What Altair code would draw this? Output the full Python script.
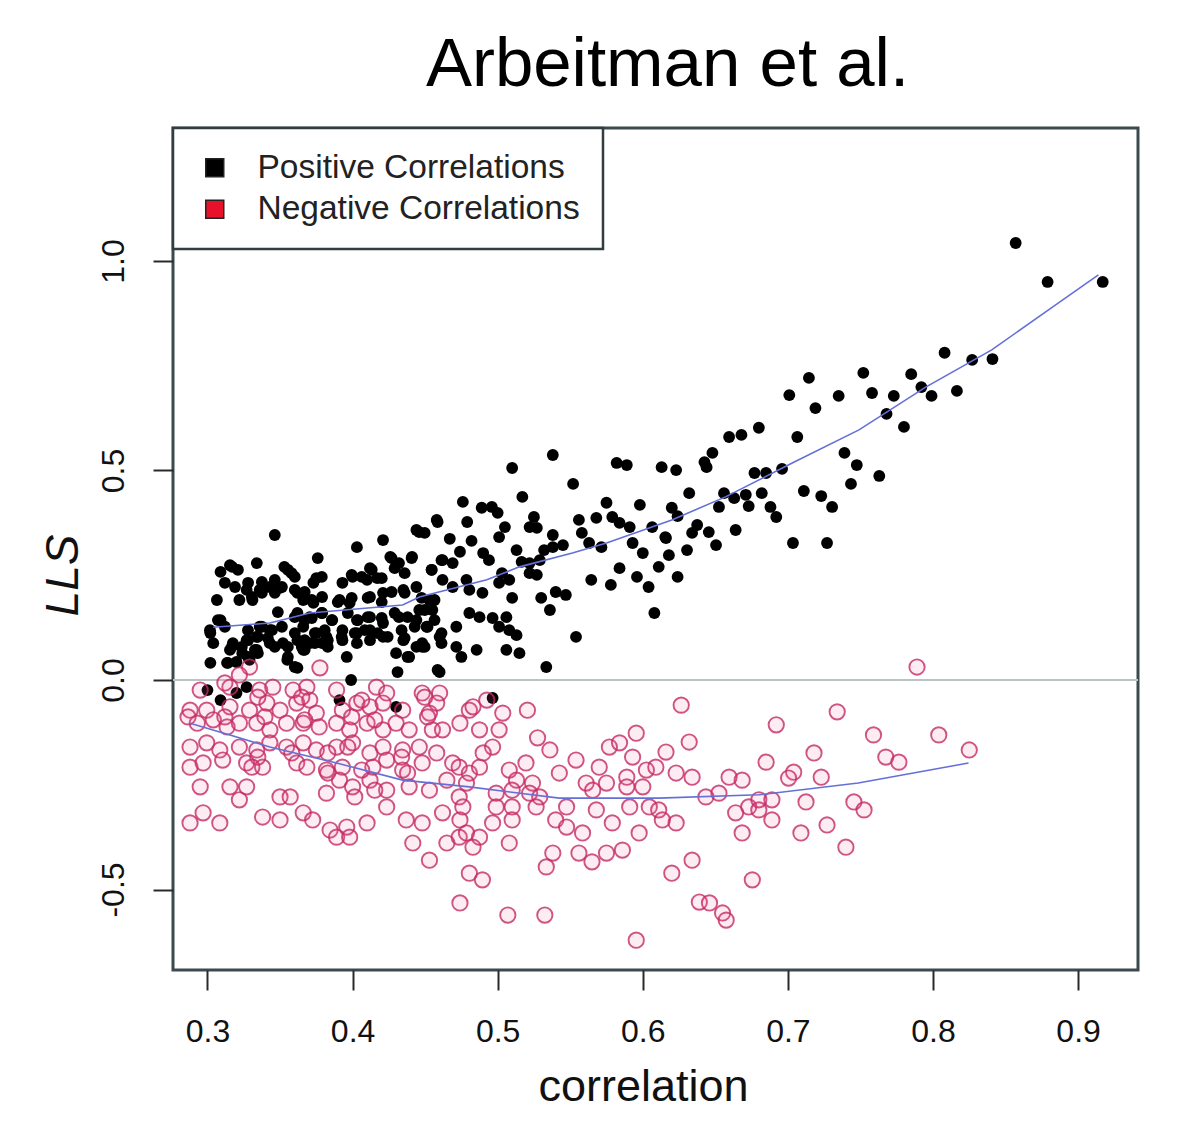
import altair as alt
import pandas as pd

pos_x = [0.3464,0.376,0.403,0.421,0.444,0.309,0.317,0.312,0.334,0.353,0.358,0.375,0.373,0.393,0.400,0.412,0.417,0.410,0.426,0.432,
0.441,0.327,0.336,0.343,0.350,0.3065,0.322,0.331,0.362,0.366,0.373,0.379,0.391,0.398,0.412,0.421,0.435,0.444,0.3485,0.362,
0.3705,0.379,0.386,0.403,0.412,0.421,0.432,0.444,0.309,0.302,0.304,0.336,0.343,0.366,0.375,0.382,0.393,0.403,0.412,0.421,
0.3175,0.327,0.334,0.343,0.352,0.362,0.3705,0.379,0.393,0.403,0.412,0.435,0.444,0.448,0.3155,0.324,0.334,0.366,0.430,0.439,
0.302,0.3135,0.320,0.329,0.355,0.362,0.396,0.431,0.399,0.300,0.309,0.320,0.327,0.391,0.430,0.4965,
0.538,0.510,0.552,0.582,0.589,0.613,0.623,0.517,0.476,0.489,0.496,0.500,0.458,0.479,0.505,0.525,0.522,0.527,0.556,0.568,
0.575,0.579,0.584,0.591,0.598,0.6065,0.620,0.446,0.467,0.482,0.501,0.538,0.545,0.558,0.563,0.5715,0.593,0.616,0.618,0.600,
0.474,0.462,0.469,0.490,0.494,0.513,0.5165,0.522,0.529,0.532,0.538,0.4545,0.503,0.508,0.501,0.522,0.527,0.584,0.611,0.624,
0.5645,0.578,0.596,0.604,0.462,0.469,0.4785,0.4805,0.4895,0.453,0.455,0.446,0.510,0.530,0.536,0.540,0.547,0.608,0.4805,0.4875,
0.4965,0.506,0.501,0.508,0.513,0.4715,0.451,0.460,0.448,0.4715,0.475,0.4855,0.506,0.515,0.554,0.460,0.5335,
0.857,0.879,0.917,0.808,0.827,0.841,0.752,0.785,0.7145,0.701,0.735,0.758,0.773,0.792,0.799,0.8165,0.719,0.768,0.780,0.680,
0.6595,0.668,0.7065,0.648,0.6425,0.644,0.739,0.7475,0.7435,0.763,0.677,0.685,0.696,0.632,0.656,0.663,0.671,0.673,0.682,0.6525,
0.688,0.692,0.711,0.723,0.7305,0.624,0.6375,0.634,0.6455,0.6505,0.664,0.6155,0.6305,0.7035,0.727,
0.4497,0.4586,0.3155,0.321,0.319,0.328,0.3375,0.3464,0.3554,0.3602,0.3513,0.3602,0.367,0.3719,0.3788,0.3994,0.4063,0.4132,0.4201,0.4269,
0.429,0.4359,0.4407,0.4545,0.4613,0.3306,0.3375,0.3464,0.3898,0.3994,0.4104,0.4201,0.4269,0.4359,0.4476,0.4565,0.3602,0.367,0.3719,0.3788,
0.3857,0.3967,0.4036,0.4104,0.4201,0.429,0.4379,0.4497,0.4565,0.3072,0.3017,0.312,0.3279,0.3375,0.3444,0.3513,0.3347,0.3416,0.3279,0.3602,
0.367,0.374,0.3808,0.3829,0.3925,0.4015,0.4084,0.4173,0.4242,0.4338,0.4428,0.4517,0.4613,0.3168,0.3237,0.3327,0.3464,0.3554,0.365,0.374,
0.3829,0.4359,0.4497,0.4613,0.3141,0.3279,0.3347,0.3554,0.3602,0.367,0.4379,0.4586]
pos_y = [0.346,0.291,0.317,0.334,0.358,0.258,0.270,0.232,0.279,0.270,0.255,0.243,0.232,0.232,0.246,0.267,0.243,0.239,0.294,0.279,
0.294,0.215,0.215,0.222,0.220,0.191,0.191,0.191,0.208,0.191,0.184,0.198,0.191,0.184,0.198,0.208,0.215,0.222,0.162,0.160,
0.150,0.160,0.143,0.143,0.150,0.136,0.150,0.143,0.143,0.112,0.088,0.127,0.119,0.127,0.112,0.103,0.119,0.112,0.119,0.103,
0.088,0.095,0.103,0.088,0.088,0.095,0.088,0.088,0.095,0.088,0.095,0.095,0.079,0.088,0.072,0.064,0.072,0.072,0.064,0.055,
0.041,0.041,0.043,0.048,0.048,0.029,0.055,0.019,0.000,-0.024,-0.048,-0.031,-0.017,-0.048,-0.064,-0.043,
0.537,0.506,0.468,0.518,0.513,0.508,0.501,0.437,0.425,0.411,0.413,0.399,0.382,0.377,0.365,0.389,0.365,0.363,0.382,0.387,
0.423,0.389,0.375,0.365,0.418,0.365,0.411,0.353,0.337,0.332,0.341,0.346,0.322,0.351,0.327,0.317,0.327,0.339,0.298,0.303,
0.306,0.286,0.279,0.303,0.286,0.310,0.282,0.279,0.286,0.310,0.317,0.263,0.255,0.239,0.232,0.255,0.251,0.267,0.270,0.246,
0.239,0.227,0.246,0.222,0.239,0.222,0.239,0.215,0.208,0.191,0.167,0.167,0.196,0.196,0.167,0.210,0.203,0.160,0.160,0.150,
0.148,0.150,0.127,0.119,0.107,0.127,0.127,0.103,0.079,0.079,0.055,0.072,0.072,0.064,0.103,0.019,0.031,
1.043,0.950,0.950,0.781,0.764,0.766,0.733,0.730,0.721,0.680,0.678,0.685,0.678,0.699,0.678,0.690,0.649,0.635,0.604,0.602,
0.580,0.585,0.580,0.542,0.520,0.508,0.542,0.513,0.468,0.487,0.494,0.494,0.504,0.446,0.446,0.434,0.442,0.415,0.446,0.413,
0.413,0.389,0.451,0.439,0.413,0.391,0.370,0.351,0.353,0.322,0.358,0.341,0.310,0.327,0.327,
0.351,0.377,0.274,0.263,0.222,0.232,0.234,0.239,0.263,0.246,0.222,0.215,0.210,0.191,0.246,0.251,0.246,0.263,0.243,0.291,
0.267,0.255,0.291,0.263,0.286,0.198,0.208,0.208,0.186,0.196,0.196,0.186,0.210,0.208,0.196,0.191,0.150,0.143,0.148,0.160,
0.143,0.160,0.143,0.150,0.148,0.160,0.150,0.167,0.143,0.143,0.119,0.127,0.119,0.127,0.119,0.127,0.103,0.100,0.095,0.112,
0.095,0.112,0.119,0.095,0.103,0.112,0.119,0.112,0.103,0.119,0.127,0.127,0.112,0.079,0.079,0.072,0.079,0.079,0.079,0.088,
0.079,0.100,0.079,0.088,0.041,0.055,0.064,0.055,0.031,0.072,0.055,0.024]

neg_x = [0.295,0.3155,0.336,0.345,0.359,0.3685,0.389,0.4165,0.4235,0.448,0.460,0.4805,0.288,0.2995,0.3155,0.329,0.341,0.350,0.3615,0.3705,
0.375,0.393,0.403,0.412,0.421,0.4345,0.453,0.458,0.293,0.304,0.3135,0.322,0.334,0.343,0.3545,0.366,0.377,0.389,0.398,0.410,
0.421,0.430,0.439,0.455,0.462,0.474,0.288,0.2995,0.3085,0.322,0.334,0.343,0.3545,0.366,0.375,0.389,0.400,0.412,0.421,0.4345,
0.446,0.458,0.469,0.288,0.297,0.3105,0.327,0.338,0.3615,0.3685,0.382,0.393,0.414,0.4235,0.4345,0.448,0.4735,0.295,0.3155,0.327,
0.322,0.350,0.357,0.382,0.391,0.400,0.412,0.4235,0.439,0.453,0.465,0.4735,0.288,0.297,0.3085,0.338,0.350,0.366,0.3725,0.3845,
0.396,0.410,0.4235,0.437,0.448,0.462,0.474,0.389,0.398,0.4415,0.453,0.465,0.4735,
0.483,0.4925,0.5035,0.5205,0.6265,0.4875,0.501,0.4965,0.490,0.5275,0.536,0.5955,0.632,0.577,0.584,0.593,0.616,0.554,0.5425,0.570,
0.685,0.692,0.4805,0.4875,0.4785,0.508,0.5195,0.513,0.524,0.561,0.5655,0.575,0.589,0.6025,0.609,0.623,0.634,0.589,0.600,0.6595,
0.6685,0.6435,0.6525,0.499,0.510,0.522,0.529,0.5475,0.568,0.591,0.6045,0.611,0.476,0.499,0.510,0.5265,0.664,0.673,0.680,0.689,
0.4965,0.510,0.540,0.5475,0.5585,0.579,0.5975,0.6135,0.623,0.6685,0.4785,0.483,0.4875,0.508,0.556,0.565,0.575,0.586,0.538,0.5335,
0.4805,0.4895,0.634,0.620,0.6755,0.474,0.507,0.5325,0.639,0.646,0.655,0.6575,0.5955,
0.789,0.734,0.759,0.804,0.825,0.7675,0.7765,0.718,0.704,0.7005,0.723,0.680,0.689,0.7125,0.7455,0.7525,0.709,0.727,0.740,
0.329,0.322,0.3775,0.312,
0.3347,0.365,0.4063,0.4497,0.2866,0.312,0.3396,0.367,0.3994,0.4153,0.4517,0.3347,0.3581,0.3829,0.3967,0.4338,0.3306,0.3829,0.4063,0.4379,
0.4153,0.4015]
neg_y = [-0.024,-0.017,-0.024,-0.017,-0.024,-0.017,-0.024,-0.017,-0.031,-0.031,-0.031,-0.072,-0.072,-0.072,-0.064,-0.072,-0.055,-0.072,-0.055,-0.048,
-0.079,-0.072,-0.055,-0.064,-0.055,-0.072,-0.079,-0.055,-0.103,-0.095,-0.112,-0.103,-0.103,-0.119,-0.103,-0.103,-0.112,-0.103,-0.119,-0.103,
-0.119,-0.103,-0.119,-0.119,-0.119,-0.103,-0.160,-0.150,-0.167,-0.160,-0.167,-0.150,-0.160,-0.150,-0.167,-0.160,-0.150,-0.174,-0.160,-0.167,
-0.160,-0.174,-0.198,-0.208,-0.198,-0.191,-0.198,-0.208,-0.198,-0.208,-0.215,-0.208,-0.208,-0.191,-0.215,-0.198,-0.208,-0.255,-0.255,-0.255,
-0.286,-0.279,-0.279,-0.270,-0.239,-0.255,-0.239,-0.263,-0.255,-0.263,-0.239,-0.279,-0.341,-0.317,-0.341,-0.327,-0.334,-0.317,-0.334,-0.358,
-0.351,-0.341,-0.303,-0.334,-0.341,-0.317,-0.334,-0.375,-0.375,-0.389,-0.430,-0.389,-0.375,
-0.064,-0.048,-0.079,-0.072,-0.060,-0.119,-0.119,-0.160,-0.174,-0.138,-0.167,-0.127,-0.148,-0.160,-0.150,-0.184,-0.172,-0.191,-0.222,-0.208,
-0.196,-0.107,-0.222,-0.208,-0.246,-0.215,-0.198,-0.239,-0.246,-0.246,-0.263,-0.246,-0.232,-0.215,-0.208,-0.222,-0.232,-0.255,-0.255,-0.232,
-0.239,-0.279,-0.270,-0.270,-0.263,-0.270,-0.279,-0.303,-0.310,-0.303,-0.303,-0.310,-0.303,-0.303,-0.303,-0.303,-0.317,-0.303,-0.310,-0.334,
-0.341,-0.334,-0.334,-0.351,-0.365,-0.341,-0.365,-0.334,-0.341,-0.365,-0.365,-0.399,-0.375,-0.389,-0.413,-0.434,-0.413,-0.406,-0.413,-0.446,
-0.461,-0.477,-0.430,-0.461,-0.477,-0.532,-0.561,-0.561,-0.530,-0.532,-0.556,-0.573,-0.621,
0.031,-0.076,-0.131,-0.131,-0.167,-0.184,-0.196,-0.174,-0.220,-0.234,-0.232,-0.286,-0.286,-0.291,-0.291,-0.310,-0.365,-0.346,-0.399,
0.031,0.012,0.029,-0.007,
-0.041,-0.041,-0.048,-0.041,-0.088,-0.088,-0.088,-0.095,-0.088,-0.095,-0.088,-0.184,-0.174,-0.174,-0.160,-0.184,-0.208,-0.222,-0.215,-0.222,
-0.263,-0.279]

pos_fit_x = [0.304,0.343,0.3705,0.4345,0.446,0.4925,0.515,0.5515,0.575,0.620,0.657,0.703,0.749,0.795,0.8405,0.8865,0.914]
pos_fit_y = [0.126,0.136,0.160,0.179,0.198,0.239,0.270,0.303,0.327,0.382,0.437,0.518,0.597,0.699,0.788,0.900,0.967]
neg_fit_x = [0.288,0.3155,0.343,0.389,0.4345,0.4805,0.5425,0.611,0.680,0.7485,0.8245]
neg_fit_y = [-0.103,-0.131,-0.160,-0.198,-0.239,-0.255,-0.282,-0.282,-0.274,-0.246,-0.198]

legend_labels = ["Positive Correlations", "Negative Correlations"]
legend_colors = ["#000000", "#e8102a"]

pos_df = pd.DataFrame({"correlation": pos_x, "LLS": pos_y, "type": legend_labels[0]})
neg_df = pd.DataFrame({"correlation": neg_x, "LLS": neg_y, "type": legend_labels[1]})
pfit = pd.DataFrame({"correlation": pos_fit_x, "LLS": pos_fit_y})
nfit = pd.DataFrame({"correlation": neg_fit_x, "LLS": neg_fit_y})
zero_df = pd.DataFrame({"LLS": [0.0]})

FONT = "Liberation Sans"
xs = alt.Scale(domain=[0.27625, 0.9413], nice=False, zero=False)
ys = alt.Scale(domain=[-0.6921, 1.3174], nice=False, zero=False)

xax = alt.Axis(values=[0.3, 0.4, 0.5, 0.6, 0.7, 0.8, 0.9], format=".1f", grid=False, domain=False,
               tickSize=20, tickWidth=2, tickColor="#2a2a2a", labelFontSize=32, labelFont=FONT,
               labelColor="#111", labelPadding=26, title="correlation", titleFont=FONT,
               titleFontSize=45, titleFontWeight="normal", titleColor="#111",
               titleX=470, titleY=130, titleBaseline="alphabetic", titleAlign="center")
yax = alt.Axis(values=[-0.5, 0.0, 0.5, 1.0], grid=False, domain=False,
               labelExpr="replace(format(datum.value, '.1f'), '\u2212', '-')",
               tickSize=20, tickWidth=2, tickColor="#2a2a2a", labelFontSize=32, labelFont=FONT,
               labelColor="#111", labelAngle=270, labelAlign="center", labelBaseline="alphabetic",
               labelPadding=30, title="LLS", titleFont=FONT, titleFontSize=46,
               titleFontWeight="normal", titleFontStyle="italic", titleColor="#111",
               titleAngle=270, titleAlign="center", titleBaseline="alphabetic", titleX=-96, titleY=447)

zero = alt.Chart(zero_df).mark_rule(color="#b9c4c4", strokeWidth=2).encode(
    y=alt.Y("LLS:Q", scale=ys, axis=yax))

black = alt.Chart(pos_df).mark_circle(size=140, opacity=1).encode(
    x=alt.X("correlation:Q", scale=xs, axis=xax),
    y=alt.Y("LLS:Q", scale=ys, axis=yax),
    color=alt.Color("type:N", scale=alt.Scale(domain=legend_labels, range=legend_colors),
                    legend=alt.Legend(title=None, orient="none", legendX=0, legendY=0,
                                      symbolType="square", symbolSize=324,
                                      symbolStrokeColor="#222", symbolStrokeWidth=1.5,
                                      symbolOffset=2, labelOffset=26, labelFontSize=33.5,
                                      labelFont=FONT, labelColor="#222", rowPadding=6.5,
                                      padding=23, fillColor="white", strokeColor="#333d40",
                                      labelLimit=500)))

red = alt.Chart(neg_df).mark_point(shape="circle", filled=False, size=235, stroke="#c42a64",
                                   strokeWidth=1.9, strokeOpacity=0.8, fill="#f06090",
                                   fillOpacity=0.12).encode(
    x=alt.X("correlation:Q", scale=xs, axis=xax),
    y=alt.Y("LLS:Q", scale=ys, axis=yax))

l1 = alt.Chart(pfit).mark_line(color="#6470d8", strokeWidth=1.6).encode(
    x=alt.X("correlation:Q", scale=xs), y=alt.Y("LLS:Q", scale=ys))
l2 = alt.Chart(nfit).mark_line(color="#6470d8", strokeWidth=1.6).encode(
    x=alt.X("correlation:Q", scale=xs), y=alt.Y("LLS:Q", scale=ys))

chart = alt.layer(zero, black, red, l1, l2).properties(
    width=965, height=842,
    title=alt.TitleParams("Arbeitman et al.", font=FONT, fontSize=69, fontWeight="normal",
                          color="#000", anchor="middle", frame="group", dx=12, offset=-28,
                          baseline="alphabetic"),
    autosize=alt.AutoSizeParams(type="none"),
    padding={"left": 165, "top": 120, "right": 54, "bottom": 162},
).configure_view(stroke="#3a4a4f", strokeWidth=3, fill="white").configure_legend(
    strokeWidth=2.5)

chart.save("out.html", embed_options={"renderer": "svg", "actions": False})
